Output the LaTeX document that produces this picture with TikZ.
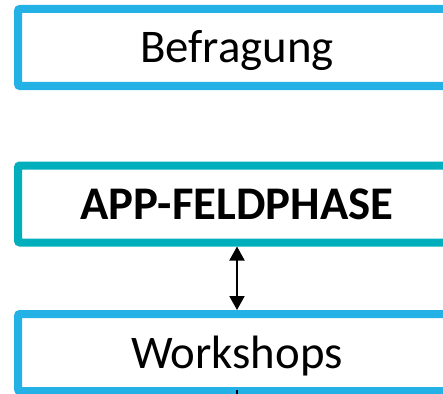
\documentclass[tikz,border=0pt]{standalone}
\usepackage{fontspec}
\setmainfont{Carlito}
\usetikzlibrary{arrows.meta}
\definecolor{boxblue}{RGB}{36,177,230}
\definecolor{boxteal}{RGB}{0,175,187}
\tikzset{
    phasebox/.style={draw=boxblue, line width=8pt, rounded corners=2pt, fill=white,
        minimum width=438pt, minimum height=77pt, inner sep=0pt,
        text height=31pt, text depth=0pt, font=\fontsize{46.8}{56}\selectfont},
    link/.style={line width=2pt, {Triangle[width=15pt,length=14pt]}-{Triangle[width=15pt,length=14pt]}},
}
\begin{document}
\begin{tikzpicture}[x=1pt, y=-1pt]
        \useasboundingbox (0,0) rectangle (443,393);
        \clip (0,0) rectangle (443,393);

        \node[phasebox] (befragung) at (237,47.5) {Befragung};
        \node[phasebox, draw=boxteal, font=\fontsize{46.8}{56}\selectfont\bfseries] (app) at (237,204) {APP-FELDPHASE};
        \node[phasebox] (workshops) at (237,352.5) {Workshops};
        \coordinate (next) at (237,440);

        \draw[link] (app) -- (workshops);
        \draw[line width=2pt, shorten <=-5pt] (workshops.south) -- (next);
    \end{tikzpicture}
\end{document}
